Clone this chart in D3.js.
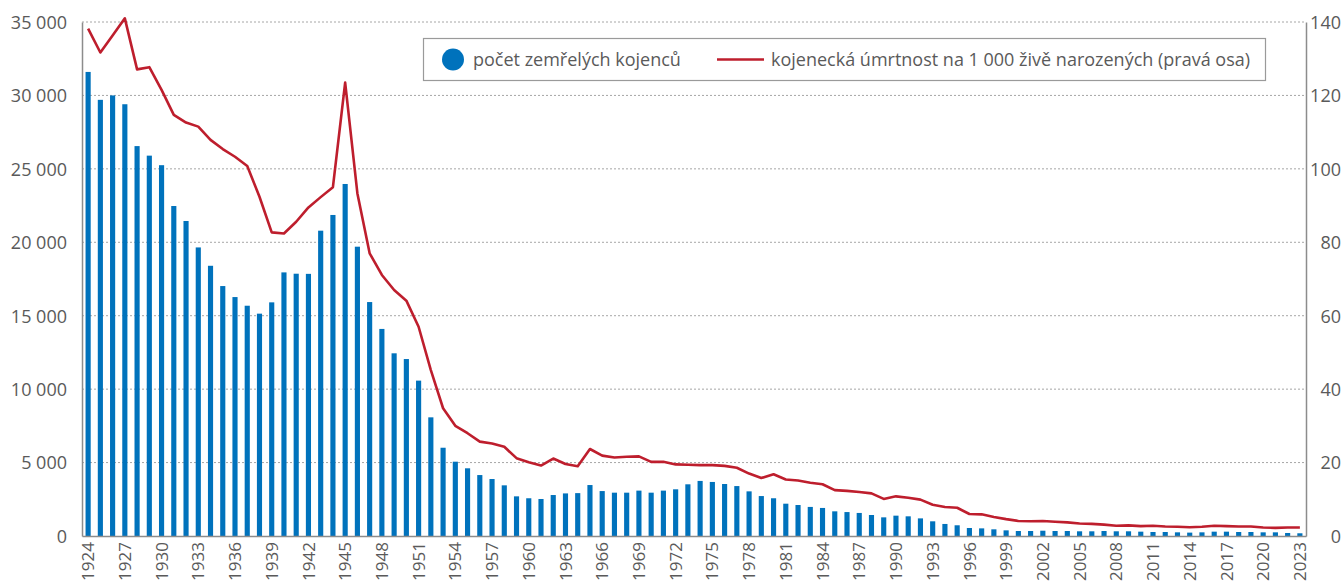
<!DOCTYPE html>
<html>
<head>
<meta charset="utf-8">
<script src="https://cdn.jsdelivr.net/npm/d3@7"></script>
<style>
  body { margin: 0; background: #fff; }
  text { font-family: "Open Sans", sans-serif; fill: #5a5a5a; }
</style>
</head>
<body>
<div id="chart"></div>
<script>
// years 1924 - 2023
var years = d3.range(1924, 2024);

// number of deceased infants (left axis)
var deaths = [
  31600, 29700, 30000, 29400, 26550, 25900, 25250, 22470, 21450, 19650,
  18400, 17020, 16270, 15680, 15140, 15910, 17950, 17860, 17850, 20790,
  21860, 23970, 19700, 15930, 14100, 12440, 12050, 10580, 8080, 6010,
  5060, 4610, 4150, 3880, 3450, 2700, 2570, 2520, 2790, 2900,
  2920, 3470, 3060, 2950, 2950, 3090, 2950, 3090, 3180, 3520,
  3750, 3680, 3540, 3400, 3040, 2720, 2570, 2200, 2110, 1980,
  1910, 1680, 1630, 1570, 1430, 1270, 1385, 1340, 1200, 1000,
  820, 730, 545, 520, 455, 385, 340, 340, 360, 340,
  340, 320, 320, 340, 320, 320, 295, 272, 272, 250,
  230, 250, 295, 295, 272, 272, 250, 250, 205, 185
];

// infant mortality per 1 000 live births (right axis)
var rate = [
  138.2, 131.7, 136.3, 141.0, 127.1, 127.7, 121.5, 114.7, 112.6, 111.5,
  107.9, 105.4, 103.3, 100.8, 92.4, 82.7, 82.4, 85.6, 89.5, 92.3,
  95.0, 123.5, 93.3, 77.0, 71.1, 67.0, 64.1, 57.0, 45.2, 34.8,
  30.0, 28.0, 25.7, 25.2, 24.3, 21.2, 20.1, 19.2, 21.1, 19.6,
  19.0, 23.7, 21.9, 21.4, 21.6, 21.7, 20.2, 20.2, 19.5, 19.4,
  19.3, 19.3, 19.1, 18.6, 17.0, 15.8, 16.8, 15.4, 15.1, 14.5,
  14.1, 12.5, 12.3, 12.0, 11.6, 10.1, 10.8, 10.4, 9.9, 8.5,
  7.9, 7.7, 6.0, 5.9, 5.2, 4.6, 4.1, 4.0, 4.1, 3.9,
  3.7, 3.4, 3.3, 3.1, 2.8, 2.9, 2.7, 2.8, 2.6, 2.5,
  2.4, 2.5, 2.8, 2.7, 2.6, 2.6, 2.3, 2.2, 2.3, 2.3
];

var leftTicks = [0, 5000, 10000, 15000, 20000, 25000, 30000, 35000];
var rightTicks = [0, 20, 40, 60, 80, 100, 120, 140];
var legendLabels = ["počet zemřelých kojenců", "kojenecká úmrtnost na 1 000 živě narozených (pravá osa)"];

var svgWidth = 1344;
var svgHeight = 583;

var margin = { top: 22, right: 38, bottom: 47, left: 82 };
var width = svgWidth - margin.left - margin.right;
var height = svgHeight - margin.top - margin.bottom;

var blue = "#0072bc";
var red = "#be1e2d";
var grey = "#8c8c8c";

var svg = d3.select("#chart")
  .append("svg")
  .attr("width", svgWidth)
  .attr("height", svgHeight);

var chartGroup = svg.append("g")
  .attr("transform", `translate(${margin.left}, ${margin.top})`);

var x = d3.scaleBand()
  .domain(years)
  .range([0, width])
  .paddingInner(0.58)
  .paddingOuter(0.29);

var yLeft = d3.scaleLinear()
  .domain([0, 35000])
  .range([height, 0]);

var yRight = d3.scaleLinear()
  .domain([0, 140])
  .range([height, 0]);

// dotted grid lines
chartGroup.append("g")
  .selectAll("line")
  .data(leftTicks.slice(1))
  .enter()
  .append("line")
  .attr("x1", 0)
  .attr("x2", width)
  .attr("y1", d => yLeft(d))
  .attr("y2", d => yLeft(d))
  .attr("stroke", "#a6a6a6")
  .attr("stroke-width", 1)
  .attr("stroke-dasharray", "2,2");

// bars
chartGroup.append("g")
  .selectAll("rect")
  .data(years)
  .enter()
  .append("rect")
  .attr("x", d => x(d))
  .attr("width", x.bandwidth())
  .attr("y", (d, i) => yLeft(deaths[i]))
  .attr("height", (d, i) => height - yLeft(deaths[i]))
  .attr("fill", blue);

// line
var line = d3.line()
  .x((d, i) => x(years[i]) + x.bandwidth() / 2)
  .y(d => yRight(d));

chartGroup.append("path")
  .datum(rate)
  .attr("d", line)
  .attr("fill", "none")
  .attr("stroke", red)
  .attr("stroke-width", 2.6)
  .attr("stroke-linejoin", "round");

// axes
var leftAxis = d3.axisLeft(yLeft)
  .tickValues(leftTicks)
  .tickSizeInner(0)
  .tickSizeOuter(0)
  .tickPadding(15)
  .tickFormat(d => d3.format(",")(d).replace(/,/g, "\u00a0"));

var rightAxis = d3.axisRight(yRight)
  .tickValues(rightTicks)
  .tickSizeInner(0)
  .tickSizeOuter(0)
  .tickPadding(35);

var bottomAxis = d3.axisBottom(x)
  .tickValues(years.filter((d, i) => i % 3 === 0))
  .tickSizeInner(0)
  .tickSizeOuter(0)
  .tickPadding(4);

var gl = chartGroup.append("g").call(leftAxis);
var gr = chartGroup.append("g")
  .attr("transform", `translate(${width}, 0)`)
  .call(rightAxis);
var gb = chartGroup.append("g")
  .attr("transform", `translate(0, ${height})`)
  .call(bottomAxis);

[gl, gr, gb].forEach(function(g) {
  g.select(".domain").attr("stroke", grey).attr("stroke-width", 1.5);
  g.selectAll("text")
    .attr("fill", "#5a5a5a")
    .style("font-size", "18px")
    .style("font-family", "'Open Sans', sans-serif");
});
gl.selectAll("text").attr("dy", "0.35em");
gr.selectAll("text").attr("dy", "0.35em").attr("text-anchor", "end");

gb.selectAll("text")
  .attr("transform", "rotate(-90)")
  .attr("text-anchor", "end")
  .attr("x", -6)
  .attr("y", 0)
  .attr("dy", "0.36em")
  .style("font-size", "17px");

// legend
var legend = svg.append("g");
legend.append("rect")
  .attr("x", 423.5)
  .attr("y", 38.5)
  .attr("width", 842)
  .attr("height", 42)
  .attr("fill", "#fff")
  .attr("stroke", "#9a9a9a")
  .attr("stroke-width", 1.2);

legend.append("circle")
  .attr("cx", 453)
  .attr("cy", 59.5)
  .attr("r", 11)
  .attr("fill", blue);

legend.append("text")
  .attr("x", 473)
  .attr("y", 59.5)
  .attr("dy", "0.35em")
  .style("font-size", "18px")
  .text(legendLabels[0]);

legend.append("line")
  .attr("x1", 717)
  .attr("x2", 764)
  .attr("y1", 59.5)
  .attr("y2", 59.5)
  .attr("stroke", red)
  .attr("stroke-width", 2.6);

legend.append("text")
  .attr("x", 771)
  .attr("y", 59.5)
  .attr("dy", "0.35em")
  .style("font-size", "18px")
  .text(legendLabels[1]);
</script>
</body>
</html>
